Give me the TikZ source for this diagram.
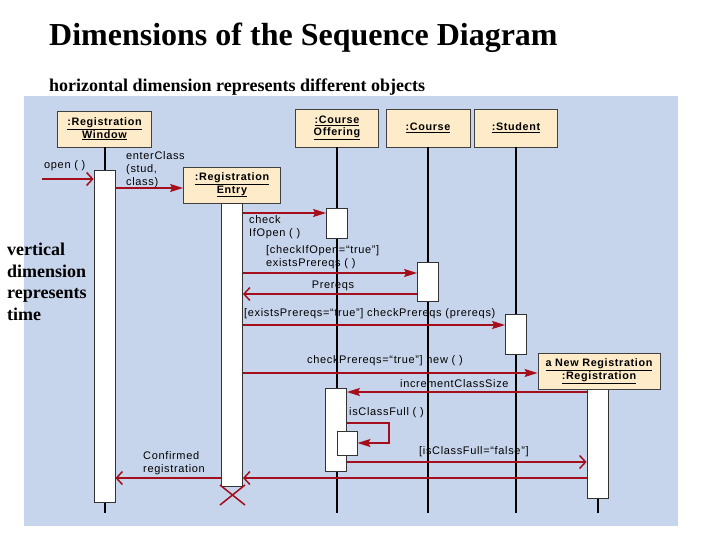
\documentclass[tikz,border=0pt]{standalone}
\usepackage{fontspec}
\setmainfont{Liberation Serif}
\newfontfamily\dgfont[LetterSpace=6]{Liberation Sans}
\usetikzlibrary{arrows.meta}
\definecolor{bgblue}{HTML}{C7D5EC}
\definecolor{msgred}{HTML}{A50F1C}
\definecolor{objfill}{HTML}{FDEBC9}
\begin{document}
\begin{tikzpicture}[x=1pt,y=-1pt,
  obj/.style={draw=black!75, fill=objfill, line width=0.8pt, align=center, inner sep=0pt,
    font=\dgfont\bfseries\fontsize{10.8}{12.5}\selectfont},
  act/.style={draw=black!80, fill=white, line width=0.8pt, minimum width=21pt, inner sep=0pt},
  life/.style={line width=2pt, black},
  msg/.style={line width=1.5pt, draw=msgred},
  sync/.style={msg, -{Stealth[length=13pt,width=8pt,inset=2pt]}},
  ret/.style={msg, -{Straight Barb[length=6pt,width=13pt]}},
  lbl/.style={font=\dgfont\fontsize{11}{13}\selectfont, inner sep=0pt, align=left, text=black},
  ttl/.style={font=\bfseries\fontsize{32}{36}\selectfont, inner sep=0pt},
  sub/.style={font=\bfseries\fontsize{18}{21.5}\selectfont, inner sep=0pt, align=left}]
\useasboundingbox (0,0) rectangle (720,540);
\fill[bgblue] (24,96) rectangle (678,526);

% titles
\node[ttl, anchor=base west] (title) at (49,46) {Dimensions of the Sequence Diagram};
\node[sub, anchor=base west] (subtitle) at (49,92) {horizontal dimension represents different objects};
\node[sub, anchor=north west] (vtext) at (7,243) {vertical\\dimension\\represents\\time};

% objects
\node[obj, minimum width=94pt, minimum height=36pt] (rw) at (104.5,129) {\underline{:Registration}\\\underline{Window}};
\node[obj, minimum width=97pt, minimum height=36pt] (re) at (232,185) {\underline{:Registration}\\\underline{Entry}};
\node[obj, minimum width=83pt, minimum height=38pt] (co) at (337,128) {\underline{:Course}\\\underline{Offering}};
\node[obj, minimum width=84pt, minimum height=38pt] (cs) at (428,128) {\underline{:Course}};
\node[obj, minimum width=83pt, minimum height=38pt] (st) at (516,128) {\underline{:Student}};

% lifeline end level
\coordinate (lend) at (0,513);

% lifelines
\draw[life] (rw.south) -- (rw.south |- lend);
\draw[life] (co.south) -- (co.south |- lend);
\draw[life] (cs.south) -- (cs.south |- lend);
\draw[life] (st.south) -- (st.south |- lend);
\coordinate (nrx) at (597.5,389);
\draw[life] (nrx) -- (nrx |- lend);

% activations
\node[act, minimum height=332pt] (a1) at (104.5,336) {};
\node[act, minimum height=283pt] (a2) at (232,344.5) {};
\node[act, minimum height=30pt] (a3) at (337,223) {};
\node[act, minimum height=39pt] (a4) at (428,281.5) {};
\node[act, minimum height=40pt] (a5) at (516,334) {};
\node[act, minimum height=83pt] (a6) at (336,429.5) {};
\node[act, minimum height=24pt, minimum width=20pt] (a7) at (347,443) {};
\node[act, minimum height=109pt] (a8) at (597.5,443.5) {};

\node[obj, minimum width=122pt, minimum height=36pt] (nr) at (599,371) {\underline{a New Registration}\\\underline{:Registration}};

% message levels
\coordinate (ostart) at (42,179);
\coordinate (y2) at (0,188);
\coordinate (y3) at (0,213);
\coordinate (y4) at (0,273);
\coordinate (y5) at (0,294);
\coordinate (y6) at (0,325);
\coordinate (y7) at (0,373);
\coordinate (y8) at (0,392);
\coordinate (y9) at (0,423);
\coordinate (s1) at (389,423);
\coordinate (s2) at (389,443);
\coordinate (y10) at (0,462);
\coordinate (y11) at (0,478);

% messages
\draw[ret] (ostart) -- (a1.west |- ostart);
\draw[sync] (a1.east |- y2) -- (re.west |- y2);
\draw[sync] (a2.east |- y3) -- (a3.west |- y3);
\draw[sync] (a2.east |- y4) -- (a4.west |- y4);
\draw[ret] (a4.west |- y5) -- (a2.east |- y5);
\draw[sync] (a2.east |- y6) -- (a5.west |- y6);
\draw[sync] (a2.east |- y7) -- (nr.west |- y7);
\draw[sync] (a8.west |- y8) -- (a6.east |- y8);
\draw[sync] (a6.east |- y9) -- (s1) -- (s2) -- (a7.east);
\draw[ret] (a6.east |- y10) -- (a8.west |- y10);
\draw[ret] (a8.west |- y11) -- (a2.east |- y11);
\draw[ret] (a2.west |- y11) -- (a1.east |- y11);

% destruction mark
\draw[msg] (220,485) -- (245,505) (220,505) -- (245,485);

% labels
\node[lbl, anchor=west] (l1) at (44,166) {open ( )};
\node[lbl, anchor=north west] (l2) at (126,151) {enterClass\\(stud,\\class)};
\node[lbl, anchor=north west] (l3) at (249,215) {check\\IfOpen ( )};
\node[lbl, anchor=north west] (l4) at (266,245) {[checkIfOpen=“true”]\\existsPrereqs ( )};
\node[lbl, anchor=center] (l5) at (333,286) {Prereqs};
\node[lbl, anchor=west] (l6) at (244,314) {[existsPrereqs=“true”] checkPrereqs (prereqs)};
\node[lbl, anchor=west] (l7) at (307,361) {checkPrereqs=“true”] new ( )};
\node[lbl, anchor=west] (l8) at (400,384) {incrementClassSize};
\node[lbl, anchor=west] (l9) at (349,413) {isClassFull ( )};
\node[lbl, anchor=west] (l10) at (419,452) {[isClassFull=“false”]};
\node[lbl, anchor=north west] (l11) at (143,451) {Confirmed\\registration};
\end{tikzpicture}
\end{document}
